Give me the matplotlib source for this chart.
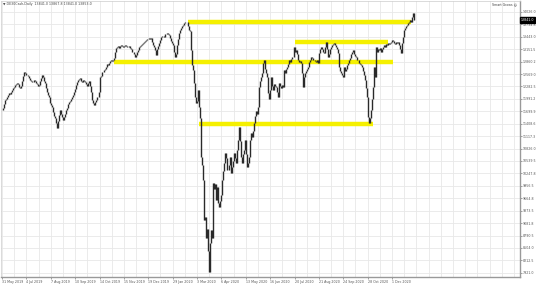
import numpy as np
import matplotlib
matplotlib.use("Agg")
from matplotlib import pyplot as plt
import matplotlib.transforms as mtransforms

# daily closes, one list per 24-bar block (one block per date label)
close_jun19 = [11727, 11790, 11880, 11960, 11985, 12045, 12090, 12130, 12100, 12160, 12210, 12250,
               12275, 12310, 12350, 12365, 12330, 12270, 12245, 12300, 12420, 12530, 12620, 12590]
close_jul19 = [12560, 12550, 12520, 12480, 12440, 12410, 12380, 12435, 12400, 12360, 12330, 12300,
               12318, 12400, 12490, 12552, 12500, 12420, 12365, 12250, 12150, 12090, 12037, 11900]
close_aug19 = [11850, 11803, 11680, 11600, 11545, 11420, 11311, 11480, 11620, 11733, 11650, 11560,
               11499, 11580, 11650, 11733, 11780, 11870, 11920, 11950, 11990, 12037, 12080, 12150]
close_sep19 = [12230, 12320, 12380, 12435, 12460, 12470, 12410, 12380, 12435, 12420, 12390, 12350,
               12300, 12365, 12400, 12290, 12150, 11966, 11900, 11850, 11920, 11960, 12037, 12150]
close_oct19 = [12505, 12530, 12620, 12630, 12669, 12700, 12750, 12800, 12780, 12833, 12870, 12900,
               12880, 12903, 12960, 13100, 13183, 13200, 13230, 13180, 13220, 13254, 13240, 13210]
close_nov19 = [13240, 13260, 13230, 13200, 13207, 13240, 13180, 13150, 13100, 13090, 13050, 12980,
               13020, 13100, 13140, 13200, 13230, 13254, 13280, 13300, 13330, 13350, 13371, 13390]
close_dec19 = [13400, 13410, 13390, 13418, 13330, 13250, 13207, 13130, 13020, 13150, 13230, 13300,
               13380, 13441, 13460, 13430, 13500, 13520, 13535, 13520, 13490, 13420, 13350, 13300]
close_jan20 = [13250, 13100, 12973, 13050, 13250, 13400, 13535, 13600, 13650, 13700, 13722, 13760,
               13790, 13792, 13780, 13700, 13605, 13580, 13137, 12790, 12669, 12370, 12037, 11890]
close_mar20 = [11950, 12201, 11803, 11541, 10625, 10450, 10100, 9161, 9230, 8742, 8939, 8441,
               7950, 8610, 8929, 8741, 10024, 9874, 10000, 9633, 9931, 9557, 9463, 9600]
close_apr20 = [9750, 10095, 10300, 10493, 10727, 10600, 10329, 10450, 10633, 10258, 10400, 10550,
               10727, 10600, 10493, 10800, 11031, 11335, 11000, 10633, 10500, 10700, 10797, 11031]
close_may20 = [10700, 10399, 10500, 10633, 11031, 11195, 11100, 11250, 11428, 11600, 11700, 11650,
               11800, 12271, 12400, 12500, 12600, 12833, 12903, 12700, 12600, 12505, 12130, 12000]
close_jun20 = [12200, 12505, 12300, 12201, 12350, 12300, 12271, 12150, 12037, 12365, 12300, 12250,
               12310, 12271, 12669, 12600, 12700, 12739, 12800, 12903, 12850, 12930, 12973, 13207]
close_jul20 = [13100, 13137, 13050, 12903, 12850, 12880, 12833, 12600, 12271, 12505, 12600, 12650,
               12700, 12739, 12850, 12900, 12973, 12950, 12900, 12903, 12880, 12856, 12900, 12833]
close_aug20 = [13067, 13150, 13207, 13150, 13100, 13067, 13200, 13324, 13150, 12973, 13050, 13150,
               13207, 13250, 13280, 13300, 13250, 13200, 13150, 13067, 12739, 12650, 12600, 12550]
close_sep20 = [12505, 12739, 12650, 12700, 12780, 12833, 12900, 12950, 13050, 13100, 13137, 13050,
               13000, 12973, 12900, 12833, 12800, 12780, 12739, 12650, 12550, 12435, 12250, 12037]
close_oct20 = [11569, 11428, 11550, 11733, 12000, 12271, 12739, 12500, 13207, 13100, 13150, 13137,
               13180, 13100, 13150, 13207, 13250, 13200, 13280, 13260, 13300, 13280, 13290, 13324]
close_dec20 = [13380, 13350, 13300, 13280, 13320, 13290, 13324, 13250, 13150, 13067, 13300, 13450,
               13605, 13650, 13700, 13720, 13769, 13800, 13839, 13780, 13900, 14010, 13841]

date_labels = ["31 May 2019", "4 Jul 2019", "7 Aug 2019", "10 Sep 2019", "14 Oct 2019",
               "15 Nov 2019", "19 Dec 2019", "29 Jan 2020", "3 Mar 2020", "6 Apr 2020",
               "13 May 2020", "16 Jun 2020", "20 Jul 2020", "21 Aug 2020", "24 Sep 2020",
               "28 Oct 2020", "1 Dec 2020"]
price_labels = ["14026.0", "13734.8", "13443.0", "13151.5", "12860.2", "12569.0", "12282.5",
                "11991.2", "11699.9", "11408.6", "11117.3", "10826.0", "10539.5", "10247.8",
                "9956.5", "9664.8", "9373.5", "9081.8", "8790.5", "8504.0", "8212.5", "7921.0"]

# support / resistance levels: price, first bar, last bar
level_price = [13792, 13331, 12849, 11400]
level_start = [183, 288, 110, 194]
level_end = [403, 380, 385, 365]

last_price = 13841.0

close = np.array(close_jun19 + close_jul19 + close_aug19 + close_sep19 + close_oct19 +
                 close_nov19 + close_dec19 + close_jan20 + close_mar20 + close_apr20 +
                 close_may20 + close_jun20 + close_jul20 + close_aug20 + close_sep20 +
                 close_oct20 + close_dec20, dtype=float)
opens = np.r_[close[0], close[:-1]]
bars = np.arange(len(close))

fig = plt.figure(figsize=(5.36, 2.84), dpi=100)
ax = fig.add_axes([1 / 536, 7 / 284, 519 / 536, 276 / 284])

ax.set_xlim(-1, 510)
ax.set_ylim(7825, 14283)

fs = 2.3
yt = [float(s) for s in price_labels]
ax.set_yticks(yt)
ax.set_yticklabels(price_labels)
ax.yaxis.tick_right()
ax.set_xticks(np.arange(len(date_labels)) * 24)
ax.set_xticklabels(date_labels, ha="left")
ax.set_xticks(np.arange(0, 510, 12), minor=True)
ax.tick_params(axis="both", which="both", labelsize=fs, colors="#555555", length=1.2, width=0.4, pad=0.8)
ax.tick_params(axis="x", which="minor", length=0)
ax.grid(True, which="both", color="#e8e8e8", lw=0.6)
ax.set_axisbelow(True)

for s in ["top", "left"]:
    ax.spines[s].set_color("#cccccc")
    ax.spines[s].set_linewidth(0.5)
for s in ["right", "bottom"]:
    ax.spines[s].set_color("#999999")
    ax.spines[s].set_linewidth(1.0)

# levels
for p, a, b in zip(level_price, level_start, level_end):
    ax.hlines(p, a, b, color="#f5f000", lw=3.2, zorder=2)

# candles
lo = np.minimum(opens, close)
hi = np.maximum(opens, close)
ax.vlines(bars, lo, hi, color="#2a2a2a", lw=1.0, zorder=3)

# current price box
trans = mtransforms.blended_transform_factory(ax.transAxes, ax.transData)
ax.text(1.002, last_price, "%.1f" % last_price, transform=trans, fontsize=fs, color="white",
        va="center", ha="left", bbox=dict(boxstyle="square,pad=0.2", fc="black", ec="black"))

fig.text(3 / 536, 1 - 4 / 284, "\u25bc DE30Cash,Daily  13841.0 13867.8 13841.0 13853.0",
         fontsize=fs, color="#444444", va="center", ha="left")
fig.text(517 / 536, 1 - 4 / 284, "Smart Grows \u263a", fontsize=fs, color="#444444",
         va="center", ha="right")

fig.savefig("out.png", dpi=100)
